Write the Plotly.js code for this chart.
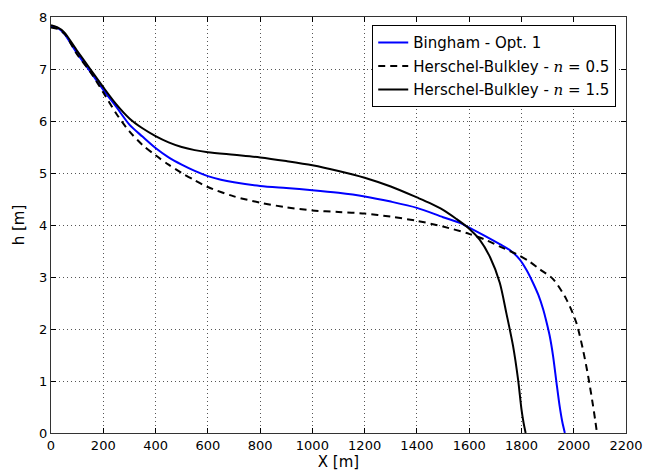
<!DOCTYPE html>
<html>
<head>
<meta charset="utf-8">
<script src="https://cdn.plot.ly/plotly-3.0.1.min.js"></script>
<style>html,body{margin:0;padding:0;background:#fff;}#chart{width:657px;height:474px;}</style>
</head>
<body>
<div id="chart"></div>
<script>
// Bingham - Opt. 1
const binghamX = [0, 25, 50, 100, 150, 200, 250, 300, 350, 400, 450, 500, 550, 600, 650, 700, 800, 900, 1000, 1100, 1200, 1300, 1400, 1500, 1564, 1600, 1660, 1717, 1760, 1793, 1820, 1844, 1865, 1883, 1896, 1908, 1921, 1934, 1946, 1956, 1966];
const binghamH = [7.82, 7.79, 7.68, 7.30, 6.95, 6.60, 6.27, 5.93, 5.70, 5.48, 5.30, 5.16, 5.04, 4.94, 4.87, 4.82, 4.75, 4.71, 4.67, 4.62, 4.55, 4.45, 4.33, 4.15, 4.04, 3.95, 3.79, 3.63, 3.50, 3.34, 3.13, 2.89, 2.65, 2.38, 2.13, 1.87, 1.48, 0.97, 0.52, 0.22, 0];

// Herschel-Bulkley n = 0.5
const hb05X = [0, 25, 53, 100, 150, 200, 250, 300, 350, 400, 450, 500, 550, 600, 700, 800, 900, 1000, 1100, 1200, 1300, 1400, 1500, 1600, 1660, 1720, 1781, 1830, 1870, 1921, 1972, 2010, 2035, 2055, 2074, 2082, 2089];
const hb05H = [7.80, 7.77, 7.67, 7.28, 6.95, 6.55, 6.14, 5.80, 5.54, 5.34, 5.16, 5.00, 4.86, 4.73, 4.55, 4.43, 4.34, 4.28, 4.25, 4.22, 4.16, 4.08, 3.97, 3.83, 3.72, 3.58, 3.44, 3.30, 3.15, 2.96, 2.57, 2.12, 1.61, 1.10, 0.52, 0.25, 0];

// Herschel-Bulkley n = 1.5
const hb15X = [0, 25, 50, 100, 150, 200, 250, 300, 350, 400, 450, 500, 550, 600, 700, 800, 900, 1000, 1100, 1200, 1300, 1400, 1450, 1500, 1550, 1600, 1640, 1680, 1717, 1742, 1768, 1787, 1800, 1808, 1816];
const hb15H = [7.84, 7.80, 7.71, 7.35, 7.00, 6.65, 6.32, 6.05, 5.86, 5.71, 5.59, 5.50, 5.44, 5.40, 5.35, 5.30, 5.23, 5.15, 5.04, 4.91, 4.74, 4.53, 4.42, 4.29, 4.12, 3.93, 3.72, 3.38, 2.89, 2.31, 1.67, 1.03, 0.46, 0.20, 0];

const italicN = '<span style="font-family:DejaVu Serif"><i>n</i></span>';
const seriesNames = ["Bingham - Opt. 1", "Herschel-Bulkley - " + italicN + " = 0.5", "Herschel-Bulkley - " + italicN + " = 1.5"];
const xTicks = [0, 200, 400, 600, 800, 1000, 1200, 1400, 1600, 1800, 2000, 2200];
const yTicks = [0, 1, 2, 3, 4, 5, 6, 7, 8];

const traces = [
  {x: binghamX, y: binghamH, name: seriesNames[0], mode: 'lines', legendgroup: 'a',
   line: {color: '#0000ff', width: 2, shape: 'spline', smoothing: 0.8}},
  {x: hb05X, y: hb05H, name: seriesNames[1], mode: 'lines', legendgroup: 'b',
   line: {color: '#000000', width: 2, dash: '7px,5px', shape: 'spline', smoothing: 0.8}},
  {x: hb15X, y: hb15H, name: seriesNames[2], mode: 'lines', legendgroup: 'c',
   line: {color: '#000000', width: 2, shape: 'spline', smoothing: 0.8}}
];

const axisCommon = {
  showline: true, linecolor: '#333', linewidth: 1.2, mirror: 'ticks',
  ticks: 'inside', ticklen: 5, tickcolor: '#000',
  showgrid: true, gridcolor: '#555', griddash: '1px,3px', gridwidth: 1,
  zeroline: false, tickfont: {family: 'DejaVu Sans', size: 13, color: '#000'}
};

const layout = {
  width: 657, height: 474,
  margin: {l: 51, r: 31, t: 17, b: 41},
  paper_bgcolor: '#fff', plot_bgcolor: '#fff',
  font: {family: 'DejaVu Sans', color: '#000'},
  xaxis: Object.assign({}, axisCommon, {
    range: [0, 2200], tickvals: xTicks,
    title: {text: 'X [m]', font: {size: 15, family: 'DejaVu Sans'}, standoff: 3}
  }),
  yaxis: Object.assign({}, axisCommon, {
    range: [0, 8], tickvals: yTicks,
    title: {text: 'h [m]', font: {size: 15, family: 'DejaVu Sans'}, standoff: 10}
  }),
  legend: {
    x: 0.983, xanchor: 'right', y: 0.98, yanchor: 'top',
    bgcolor: '#fff', bordercolor: '#000', borderwidth: 1,
    font: {family: 'DejaVu Sans', size: 15, color: '#000'},
    itemwidth: 30, tracegroupgap: 1, traceorder: 'grouped'
  },
  showlegend: true
};

Plotly.newPlot('chart', traces, layout, {displayModeBar: false, staticPlot: true});
</script>
</body>
</html>
